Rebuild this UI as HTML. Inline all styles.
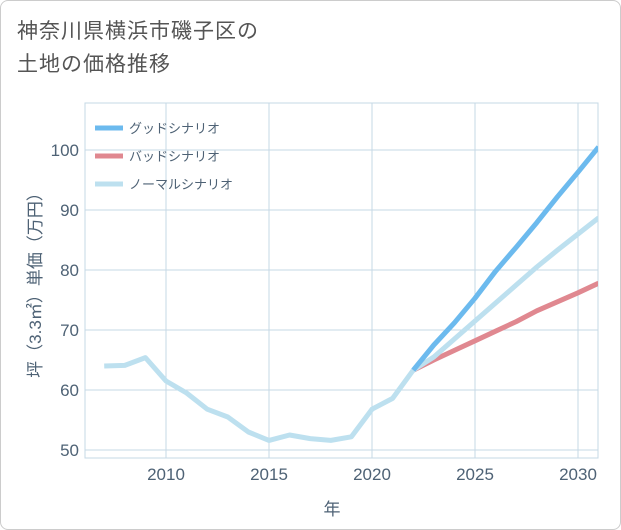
<!DOCTYPE html>
<html><head><meta charset="utf-8"><style>
body{margin:0;background:#fff;font-family:"Liberation Sans","Noto Sans CJK JP",sans-serif;}
#wrap{position:relative;width:619px;height:528px;border:1px solid #ccc;border-radius:8px;background:#fff;overflow:hidden}
#title{position:absolute;left:16px;top:14px;font-size:21px;line-height:33px;color:#555;letter-spacing:1px}
svg{position:absolute;left:0;top:0}
</style></head><body>
<div id="wrap">
<div id="title">神奈川県横浜市磯子区の<br>土地の価格推移</div>
<svg id="chart" width="621" height="530"></svg>
</div>
<script>
const histYears=[2007,2008,2009,2010,2011,2012,2013,2014,2015,2016,2017,2018,2019,2020,2021,2022];
const histValues=[64,64.1,65.4,61.5,59.5,56.8,55.5,53,51.6,52.5,51.9,51.6,52.2,56.8,58.6,63.3];
const futYears=[2022,2023,2024,2025,2026,2027,2028,2029,2030,2031];
const goodValues=[63.3,67.5,71.2,75.3,79.8,83.8,87.9,92.2,96.3,100.5];
const normalValues=[63.3,65.5,68.5,71.5,74.5,77.5,80.5,83.3,86,88.7];
const badValues=[63.3,65,66.6,68.2,69.8,71.4,73.2,74.7,76.2,77.8];
const xTicks=[2010,2015,2020,2025,2030];
const yTicks=[50,60,70,80,90,100];
const legendLabels=["グッドシナリオ","バッドシナリオ","ノーマルシナリオ"];
const NS="http://www.w3.org/2000/svg";
const svg=document.getElementById('chart');
const L=84,R=597,T=102,B=457;
const TC='#4e6275';
const x=y=>165+(y-2010)*20.6;
const yS=v=>449-(v-50)*6;
function el(t,a,p){const e=document.createElementNS(NS,t);for(const k in a)e.setAttribute(k,a[k]);(p||svg).appendChild(e);return e;}
const clip=el('clipPath',{id:'pc'});el('rect',{x:L,y:T,width:R-L,height:B-T},clip);
xTicks.forEach(t=>{const g=el('line',{x1:x(t),x2:x(t),y1:T,y2:B,stroke:'#c5d8e6','stroke-width':1});


const tx=el('text',{x:x(t),y:479,'text-anchor':'middle','font-size':17,fill:TC});tx.textContent=t;

});
yTicks.forEach(t=>{const g=el('line',{x1:L,x2:R,y1:yS(t),y2:yS(t),stroke:'#c5d8e6','stroke-width':1});


const tx=el('text',{x:78,y:yS(t)+6,'text-anchor':'end','font-size':17,fill:TC});tx.textContent=t;

});
const frame=el('rect',{x:L,y:T,width:R-L,height:B-T,fill:'none',stroke:'#c5d8e6'});


function line(xs,vs,c,name){const p=el('polyline',{points:xs.map((yr,i)=>x(yr)+','+yS(vs[i])).join(' '),fill:'none',stroke:c,'stroke-width':5,'stroke-linejoin':'round','clip-path':'url(#pc)'});

}
line(futYears,badValues,'#e08890','bad-scenario-line');
line(futYears,normalValues,'#bde0ef','normal-scenario-line');
line(futYears,goodValues,'#6cbaee','good-scenario-line');
line(histYears,histValues,'#bde0ef','history-line');
const lc=['#6cbaee','#e08890','#bde0ef'];
legendLabels.forEach((s,i)=>{const yy=127+i*28;
const l=el('line',{x1:94,x2:122,y1:yy,y2:yy,stroke:lc[i],'stroke-width':5});


const t=el('text',{x:128,y:yy+5,'font-size':13,fill:TC});t.textContent=s;

});
const xt=el('text',{x:331,y:514,'text-anchor':'middle','font-size':17,fill:TC});xt.textContent='年';


const yt=el('text',{x:0,y:0,'text-anchor':'middle','font-size':17,fill:TC,transform:'translate(40,280) rotate(-90)'});yt.textContent='坪（3.3㎡）単価（万円）';


</script>
</body></html>
